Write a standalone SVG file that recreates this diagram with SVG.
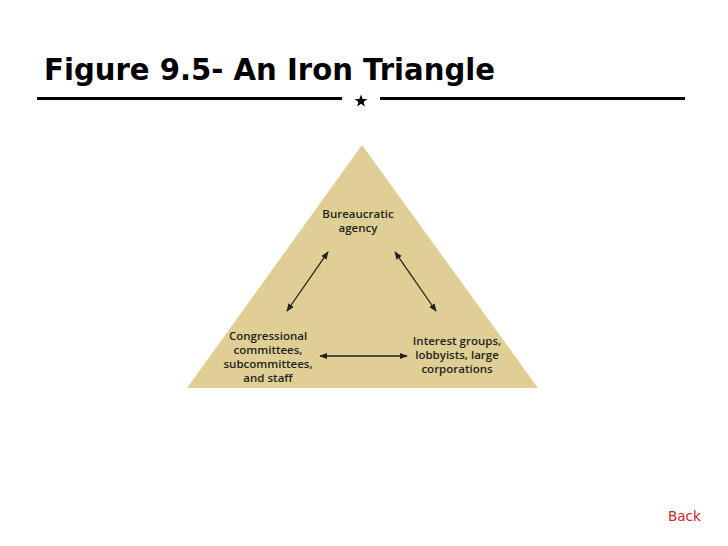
<svg xmlns="http://www.w3.org/2000/svg" width="728" height="546" viewBox="0 0 728 546">
<style>
.title{font-family:"DejaVu Sans",Verdana,sans-serif;font-weight:bold;font-size:30px;fill:#000}
.lbl{font-family:"Open Sans","Liberation Sans",sans-serif;font-weight:600;font-size:11.5px;fill:#231f20;text-anchor:middle}
.rule{stroke:#000;stroke-width:3}
.conn{stroke:#231f20;stroke-width:1.3;fill:none;marker-start:url(#ah);marker-end:url(#ah)}
.back{font-family:"DejaVu Sans",Verdana,sans-serif;font-size:13.5px;fill:#cc2229}
</style>
<defs>
<marker id="ah" viewBox="0 0 10 10" refX="9" refY="5" markerWidth="8" markerHeight="8" markerUnits="userSpaceOnUse" orient="auto-start-reverse">
<path d="M0,1 L10,5 L0,9 Z" fill="#231f20"/>
</marker>
</defs>
<rect width="728" height="546" fill="#fff"/>
<g id="header">
<text class="title" x="44" y="80" textLength="451" lengthAdjust="spacingAndGlyphs">Figure 9.5- An Iron Triangle</text>
<line class="rule" x1="37" y1="98.5" x2="342" y2="98.5"/>
<line class="rule" x1="380" y1="98.5" x2="685" y2="98.5"/>
<polygon points="361,94.5 362.6,99 367.3,99.1 363.6,101.9 364.9,106.5 361,103.8 357.1,106.5 358.4,101.9 354.7,99.1 359.4,99" fill="#000"/>
</g>
<g id="triangle">
<polygon points="362,145 538,388 187,388" fill="#e0cf95"/>
</g>
<g id="node-bureaucratic">
<text class="lbl" x="358" y="218">Bureaucratic</text>
<text class="lbl" x="358" y="232">agency</text>
</g>
<g id="node-congress">
<text class="lbl" x="268" y="340">Congressional</text>
<text class="lbl" x="268" y="354">committees,</text>
<text class="lbl" x="268" y="368">subcommittees,</text>
<text class="lbl" x="268" y="382">and staff</text>
</g>
<g id="node-interest">
<text class="lbl" x="457" y="345">Interest groups,</text>
<text class="lbl" x="457" y="359">lobbyists, large</text>
<text class="lbl" x="457" y="373">corporations</text>
</g>
<g id="connectors">
<line class="conn" x1="287" y1="311" x2="328" y2="252"/>
<line class="conn" x1="395" y1="252" x2="436" y2="311"/>
<line class="conn" x1="320" y1="356" x2="407" y2="356"/>
</g>
<g id="back">
<text class="back" x="668" y="521">Back</text>
</g>
</svg>
